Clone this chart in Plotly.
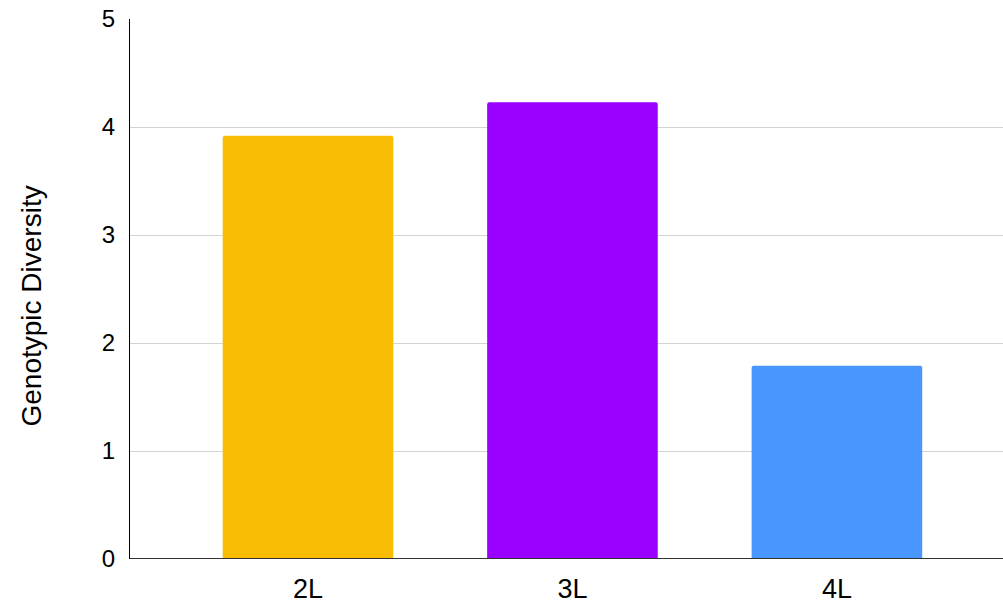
import plotly.graph_objects as go

# Genotypic diversity per group
categories = ["2L", "3L", "4L"]
diversity = [3.92, 4.23, 1.79]
bar_colors = ["#F9BC05", "#9900FF", "#4A96FF"]
y_ticks = [0, 1, 2, 3, 4, 5]

fig = go.Figure(
    go.Bar(
        x=list(range(len(categories))),
        y=diversity,
        marker=dict(color=bar_colors, line=dict(width=0), cornerradius=2),
        width=0.645,
        hoverinfo="skip",
    )
)

fig.update_layout(
    width=1003,
    height=603,
    margin=dict(l=130, r=0, t=19, b=44),
    paper_bgcolor="white",
    plot_bgcolor="white",
    showlegend=False,
    font=dict(family="Liberation Sans, Arial, sans-serif", color="#000000"),
    xaxis=dict(
        range=[-0.673, 2.628],
        tickmode="array",
        tickvals=list(range(len(categories))),
        ticktext=categories,
        tickfont=dict(size=27),
        showgrid=False,
        zeroline=False,
        showline=False,
        ticks="",
        ticklabelstandoff=11,
    ),
    yaxis=dict(
        range=[0, 5],
        tickmode="array",
        tickvals=y_ticks,
        tickfont=dict(size=24),
        showgrid=True,
        gridcolor="#D3D3D3",
        gridwidth=1,
        zeroline=False,
        showline=True,
        linecolor="#000000",
        linewidth=1,
        ticks="",
        ticklabelstandoff=9,
    ),
    shapes=[
        dict(type="line", xref="paper", yref="y", x0=0, x1=1, y0=0, y1=0,
             line=dict(color="#333333", width=2)),
    ],
    annotations=[
        dict(
            text="Genotypic Diversity",
            xref="paper", yref="paper",
            x=(31 - 130) / 873, y=(559 - 306.5) / 540,
            xanchor="center", yanchor="middle",
            textangle=-90,
            showarrow=False,
            font=dict(size=28),
        )
    ],
)

fig.write_html("out.html")
